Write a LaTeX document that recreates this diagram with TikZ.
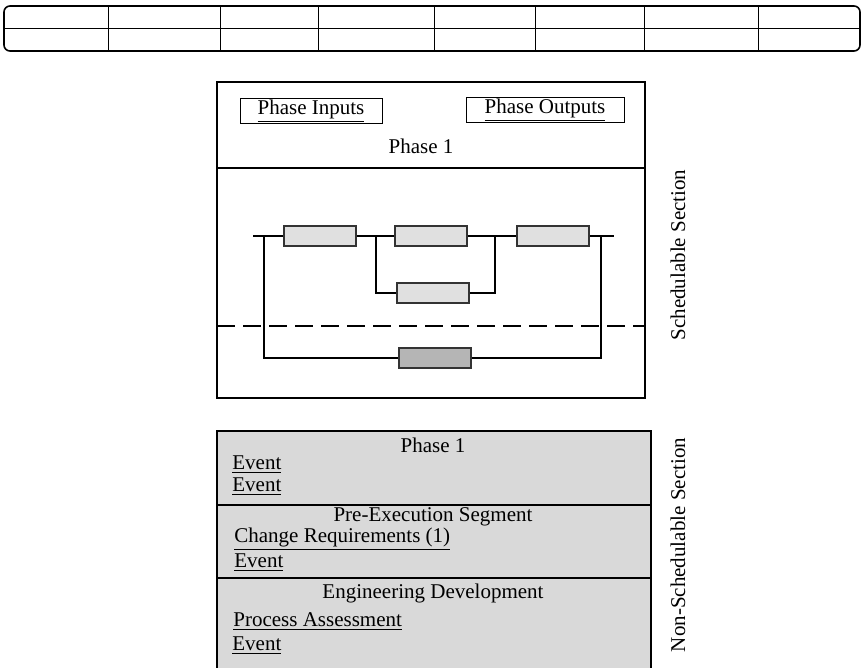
\documentclass[tikz,border=0pt]{standalone}
\usepackage{fontspec}
\setmainfont{Liberation Serif}
\usepackage{tikz}
\usetikzlibrary{positioning,calc}
\usepackage{xcolor}
\definecolor{BoxLight}{HTML}{E0E0E0}
\definecolor{BoxDark}{HTML}{B5B5B5}
\definecolor{SectionGray}{HTML}{D9D9D9}
\definecolor{EdgeGray}{HTML}{333333}

\begin{document}
\begin{tikzpicture}[x=0.5pt, y=-0.5pt,
    font=\fontsize{10.5}{12}\selectfont,
    task/.style={draw=EdgeGray, fill=BoxLight, line width=0.9pt, minimum width=36pt, minimum height=10pt, inner sep=0pt},
    critical/.style={task, fill=BoxDark},
    wire/.style={line width=0.9pt},
    frame/.style={line width=0.8pt},
    ioBox/.style={draw, line width=0.5pt, minimum width=71pt, minimum height=12.5pt, inner sep=0pt},
    entry/.style={anchor=west, inner sep=0pt},
    sidelabel/.style={rotate=90, inner sep=0pt}
  ]
    \useasboundingbox (0,0) rectangle (862,668);

    % timeline strip
    \draw[line width=0.8pt, rounded corners=3pt] (4,6) rectangle (860,51);
    \draw[line width=0.4pt] (4,28) -- (860,28);
    \foreach \xx in {108,220,318,434,535,644,758}
      \draw[line width=0.4pt] (\xx,6) -- (\xx,51);

    % schedulable section
    \draw[frame] (217,82) rectangle (645,398);
    \draw[frame] (217,168) -- (645,168);
    \node[ioBox] (inputs) at (311,111) {\underline{Phase Inputs}};
    \node[ioBox, minimum width=79pt] (outputs) at (545,110) {\underline{Phase Outputs}};
    \node (phase) at (421,146) {Phase 1};

    \node[task] (t1) at (320,236) {};
    \node[task] (t2) at (431,236) {};
    \node[task] (t3) at (553,236) {};
    \node[task] (t4) at (433,293) {};
    \node[critical] (t5) at (435,358) {};

    \coordinate (start) at (253,236);
    \coordinate (finish) at (614,236);
    \coordinate (split) at (376,236);
    \coordinate (merge) at (495,236);
    \coordinate (lowL) at (264,236);
    \coordinate (lowR) at (601,236);

    \draw[wire] (start) -- (t1) -- (t2) -- (t3) -- (finish);
    \draw[wire] (split) |- (t4) -| (merge);
    \draw[wire] (lowL) |- (t5) -| (lowR);
    \draw[line width=0.6pt, dash pattern=on 9pt off 4pt] (217,326) -- (645,326);

    \node[sidelabel] (sched) at (678,255) {Schedulable Section};

    % non-schedulable section
    \fill[SectionGray] (217,431) rectangle (651,668);
    \draw[frame] (217,668) -- (217,431) -- (651,431) -- (651,668);
    \draw[frame] (217,505) -- (651,505);
    \draw[frame] (217,578) -- (651,578);

    \node (ph) at (433,445) {Phase 1};
    \node[entry] (ev1) at (232,465) {\underline{Event}};
    \node[entry] (ev2) at (232,487) {\underline{Event}};
    \node (pre) at (433,517) {Pre-Execution Segment};
    \node[entry] (chg) at (234,539) {\underline{Change Requirements (1)}};
    \node[entry] (ev3) at (234,563) {\underline{Event}};
    \node (eng) at (433,593) {Engineering Development};
    \node[entry] (proc) at (233,622) {\underline{Process Assessment}};
    \node[entry] (ev4) at (232,646) {\underline{Event}};

    \node[sidelabel] (nonsched) at (678,545) {Non-Schedulable Section};
\end{tikzpicture}
\end{document}
